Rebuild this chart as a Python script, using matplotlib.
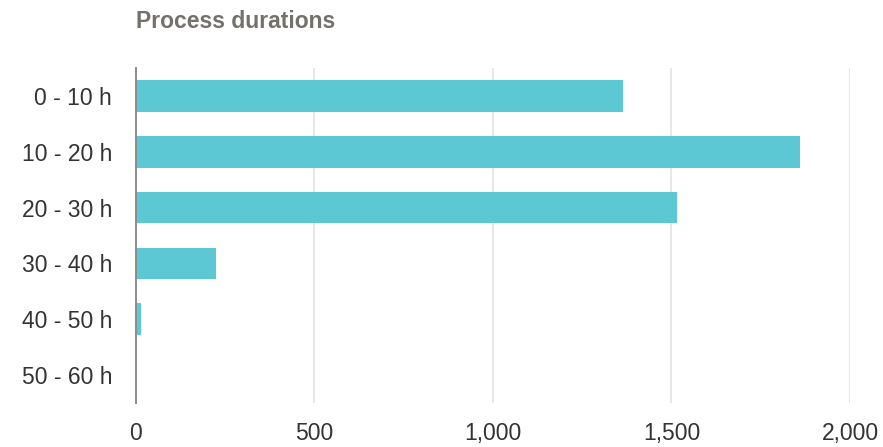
import matplotlib
matplotlib.use("Agg")
import matplotlib.pyplot as plt
from matplotlib.ticker import FuncFormatter

# Number of processes per duration bucket
categories = ["0 - 10 h", "10 - 20 h", "20 - 30 h", "30 - 40 h", "40 - 50 h", "50 - 60 h"]
counts = [1364, 1860, 1515, 224, 14, 1]
x_ticks = [0, 500, 1000, 1500, 2000]

plt.rcParams["font.family"] = ["Liberation Sans", "DejaVu Sans"]

fig = plt.figure(figsize=(8.83, 4.47), dpi=100)
ax = fig.add_axes([0.1537, 0.0984, 0.8089, 0.7495])

ypos = list(range(len(categories)))
ax.barh(ypos, counts, height=0.57, color="#5cc8d3", zorder=2)

ax.set_ylim(len(categories) - 0.5, -0.5)
ax.set_yticks(ypos)
ax.set_yticklabels(categories)
ax.set_xlim(0, 2000)
ax.set_xticks(x_ticks)
ax.xaxis.set_major_formatter(FuncFormatter(lambda v, p: f"{int(v):,}"))

ax.grid(axis="x", color="#e3e3e3", linewidth=1.2, zorder=0)
for s in ["top", "right", "bottom"]:
    ax.spines[s].set_visible(False)
ax.spines["left"].set_color("#8c8c8c")
ax.spines["left"].set_linewidth(1.4)
ax.spines["left"].set_zorder(3)

ax.tick_params(axis="both", length=0, labelsize=16.5, colors="#333333")
ax.tick_params(axis="y", pad=17)
ax.tick_params(axis="x", pad=14)

fig.text(136 / 883, 1 - 21 / 447, "Process durations", fontsize=16.5,
         fontweight="bold", color="#74706b", ha="left", va="center")

fig.savefig("out.png", dpi=100)
